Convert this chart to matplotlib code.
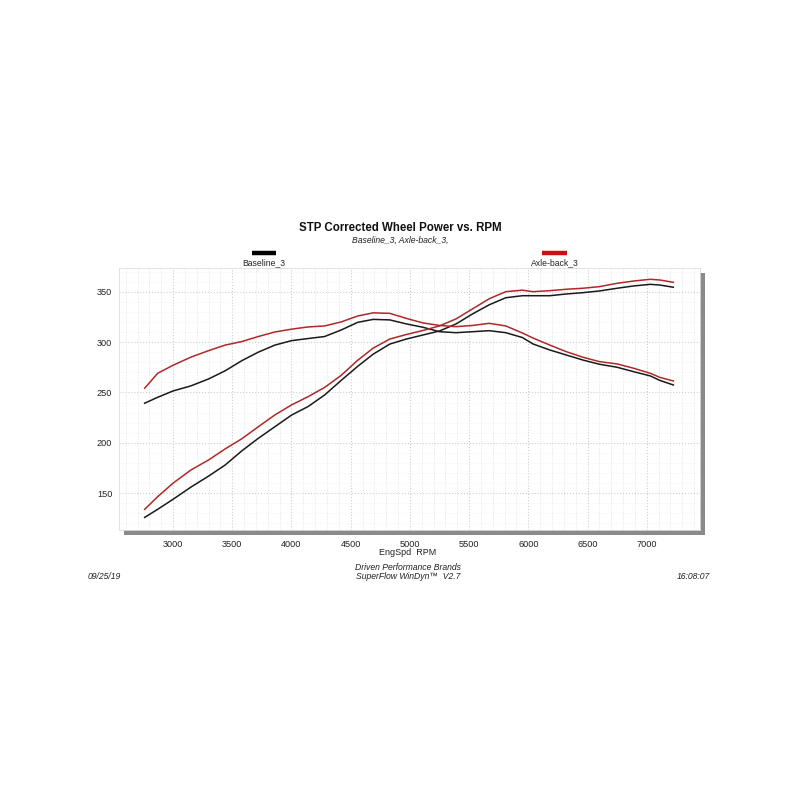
import matplotlib as mpl
mpl.use('Agg')
import matplotlib.pyplot as plt
from matplotlib.lines import Line2D
from matplotlib.patches import Rectangle
from matplotlib.ticker import MultipleLocator

plt.rcParams['font.family'] = ['Liberation Sans', 'DejaVu Sans']

# dyno runs (rpm, power / torque)
rpm = [2760, 2870, 3000, 3150, 3300, 3440, 3580, 3720, 3860, 4000,
       4140, 4280, 4420, 4560, 4690, 4830, 4970, 5110, 5250, 5390,
       5530, 5670, 5810, 5950, 6040, 6180, 6320, 6460, 6600, 6750,
       6890, 7030, 7110, 7225]

base_power = [126, 134, 144, 156, 167, 178, 192, 204.5, 216, 227.5,
              236, 247.5, 262, 276, 288, 298, 303, 307, 311, 318,
              328, 337, 344, 346, 346, 346, 347.7, 349, 350.7, 353.4,
              355.7, 357.3, 356.6, 354.4]
axle_power = [134, 146.6, 160, 173, 183, 194, 204, 216, 227.7, 237.6,
              245.8, 255, 267, 282, 294, 303, 307.5, 311.5, 316, 323,
              333, 343, 350, 351.5, 350, 351, 352.4, 353.4, 355, 358.3,
              360.6, 362.3, 361.6, 359.3]
base_torque = [239.3, 245.2, 251.5, 256.5, 263.4, 271.5, 281.5, 290, 297, 301.4,
               303.5, 305.5, 312, 319.6, 322.5, 322, 318, 314.7, 310.3, 309.3,
               310.3, 311.3, 309.3, 304.5, 298.1, 292.2, 287.2, 282.2, 278, 275,
               270.6, 266.4, 262, 257.4]
axle_torque = [254.2, 269, 277, 285, 291.5, 297, 300.5, 305.5, 310, 312.8,
               315, 316, 320, 325.9, 329, 328.5, 323.5, 319, 316.5, 315.3,
               316.5, 318.6, 316, 309, 304, 297.1, 290.5, 285, 280.6, 278.3,
               274, 269, 265, 261.4]

run_names = ['Baseline_3', 'Axle-back_3']
line_colors = ['#1a1a1a', '#b02828']
swatch_colors = ['#000000', '#c81010']

fig = plt.figure(figsize=(8, 8), dpi=100)
fig.patch.set_facecolor('white')

ax_l, ax_b, ax_w, ax_h = 0.149, 0.3375, 0.726, 0.3275
ax = fig.add_axes([ax_l, ax_b, ax_w, ax_h])

# grey drop shadow behind plot area
sh = 5 / 800
fig.add_artist(Rectangle((ax_l + sh, ax_b - sh), ax_w, ax_h,
                         transform=fig.transFigure, facecolor='#8a8a8a',
                         edgecolor='none', zorder=-1))

ax.plot(rpm, base_power, color=line_colors[0], lw=1.1)
ax.plot(rpm, base_torque, color=line_colors[0], lw=1.1)
ax.plot(rpm, axle_power, color=line_colors[1], lw=1.1)
ax.plot(rpm, axle_torque, color=line_colors[1], lw=1.1)

ax.set_xlim(2545, 7450)
ax.set_ylim(113.5, 373.5)
ax.xaxis.set_minor_locator(MultipleLocator(100))
ax.yaxis.set_minor_locator(MultipleLocator(10))
ax.set_yticks([150, 200, 250, 300, 350])
ax.set_xticks(range(3000, 7001, 500))
ax.grid(which='major', color='#cfcfcf', ls=':', lw=0.8)
ax.grid(which='minor', axis='x', color='#dedede', ls=':', lw=0.6)
ax.grid(which='minor', axis='y', color='#efefef', ls=':', lw=0.5)
ax.set_axisbelow(True)
ax.tick_params(which='both', length=0, labelsize=6.6, labelcolor='#222222')
ax.tick_params(axis='y', pad=5)
ax.tick_params(axis='x', pad=7)
for s in ax.spines.values():
    s.set_color('#dddddd')
    s.set_linewidth(0.6)

# header
fig.text(0.5, 0.715, 'STP Corrected Wheel Power vs. RPM', ha='center',
         va='center', fontsize=8.3, fontweight='bold', color='#111111')
fig.text(0.5, 0.70, ', '.join(run_names) + ',', ha='center', va='center',
         fontsize=6.2, style='italic', color='#222222')

# legend swatches above the plot
for name, c, x0, x1 in zip(run_names, swatch_colors, [0.315, 0.6775], [0.345, 0.709]):
    fig.add_artist(Line2D([x0, x1], [0.684, 0.684], transform=fig.transFigure,
                          color=c, lw=3.2, solid_capstyle='butt'))
    fig.text((x0 + x1) / 2, 0.671, name, ha='center', va='center',
             fontsize=6.2, color='#222222')

# footer
fig.text(0.51, 0.309, 'EngSpd  RPM', ha='center', va='center', fontsize=6.5,
         color='#222222')
fig.text(0.51, 0.291, 'Driven Performance Brands', ha='center', va='center',
         fontsize=6.2, style='italic', color='#222222')
fig.text(0.51, 0.279, 'SuperFlow WinDyn\u2122  V2.7', ha='center', va='center',
         fontsize=6.2, style='italic', color='#222222')
fig.text(0.11, 0.279, '09/25/19', ha='left', va='center', fontsize=6.2,
         style='italic', color='#222222')
fig.text(0.888, 0.279, '16:08:07', ha='right', va='center', fontsize=6.2,
         style='italic', color='#222222')

fig.savefig('out.png', dpi=100, facecolor='white')
